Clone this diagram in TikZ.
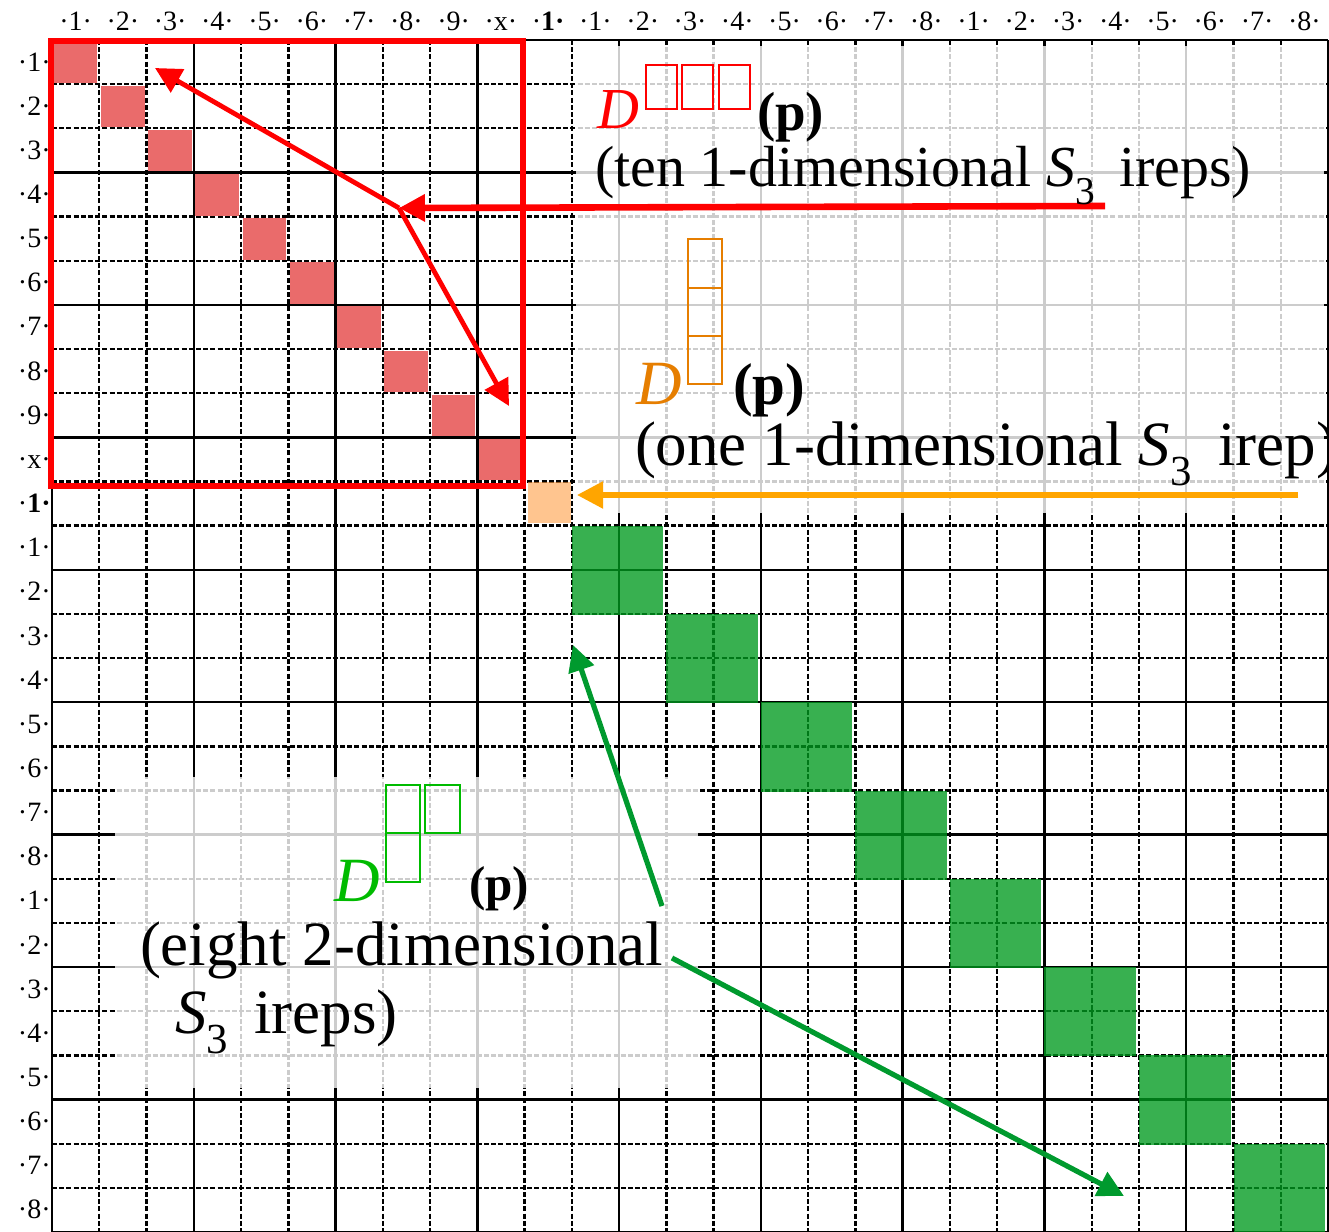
\documentclass[tikz,border=0pt]{standalone}
\usepackage{fontspec}
\setmainfont{Liberation Serif}
\usetikzlibrary{arrows.meta}
\definecolor{rosecell}{HTML}{EA6B6B}
\definecolor{peach}{HTML}{FF9F45}
\definecolor{leaf}{HTML}{009A1F}
\definecolor{amber}{HTML}{FFA500}
\definecolor{pine}{HTML}{009A2E}
\definecolor{tangerine}{HTML}{E67E00}
\definecolor{lime}{HTML}{00BB00}
\newcommand{\Sthr}{\textit{S}\raisebox{-0.32em}{\scalebox{0.68}{3}}\hspace{0.42em}}

\begin{document}
\begin{tikzpicture}[x=0.5pt, y=-0.5pt,
    gl/.style={line width=1.2pt},
    dl/.style={line width=1.2pt, dash pattern=on 2.5pt off 1.1pt},
    lab/.style={anchor=base west, inner sep=0pt, outer sep=0pt},
    idx/.style={inner sep=0pt, font=\fontsize{14}{15}\selectfont},
    yd/.style={line width=0.8pt},
    arr/.style={-{Triangle[length=13pt, width=13pt]}}]
  \useasboundingbox (0,0) rectangle (1329,1232);
  % grid, solid every third line
  \foreach \i in {0,...,27} {
    \pgfmathtruncatemacro\m{mod(\i,3)}
    \ifnum\m=0
      \draw[gl] ({52+47.26*\i},40) -- ({52+47.26*\i},1232);
      \draw[gl] (52,{40+44.148*\i}) -- (1328,{40+44.148*\i});
    \else
      \draw[dl] ({52+47.26*\i},40) -- ({52+47.26*\i},1232);
      \draw[dl] (52,{40+44.148*\i}) -- (1328,{40+44.148*\i});
    \fi
  }
  \foreach \t [count=\n from 0] in {1,2,3,4,5,6,7,8,9,x,{\bfseries 1},1,2,3,4,5,6,7,8,1,2,3,4,5,6,7,8} {
    \node[idx, anchor=base] (c\n) at ({52+47.26*(\n+0.5)},30) {·\t·};
    \node[idx, anchor=base east] (r\n) at (51,{40+44.148*(\n+0.5)+9}) {·\t·};
  }
  % blocks
  \foreach \i in {0,...,9}
    \fill[rosecell] ({52+47.26*\i+1.5},{40+44.148*\i+1.5}) rectangle ({52+47.26*(\i+1)-2},{40+44.148*(\i+1)-1});
  \fill[peach, fill opacity=0.6] (527.5,482) rectangle (570.5,523);
  \foreach \k in {0,...,7}
    \fill[leaf, fill opacity=0.78] ({52+47.26*(11+2*\k)},{40+44.148*(11+2*\k)}) rectangle ({52+47.26*(13+2*\k)-3},{40+44.148*(13+2*\k)+1});
  \fill[white, fill opacity=0.8] (576,46) rectangle (1324,513);
  \fill[white, fill opacity=0.8] (115,777) rectangle (698,1088);
  \draw[red, line width=3pt] (50.5,41) rectangle (522.5,485.5);
  % arrows
  \coordinate (redtail) at (1105,206);
  \coordinate (hub) at (399,208);
  \coordinate (redA) at (155,68);
  \coordinate (redB) at (509,406);
  \coordinate (otail) at (1298,495);
  \coordinate (otip) at (577,495);
  \coordinate (gtailA) at (662,906);
  \coordinate (gtipA) at (573,645);
  \coordinate (gtailB) at (672,958);
  \coordinate (gtipB) at (1124,1196);
  \draw[arr, red, line width=3.3pt] (redtail) -- (hub);
  \draw[arr, red, line width=2.4pt] (hub) -- (redA);
  \draw[arr, red, line width=2.4pt] (hub) -- (redB);
  \draw[arr, amber, line width=2.6pt] (otail) -- (otip);
  \draw[arr, pine, line width=2.6pt] (gtailA) -- (gtipA);
  \draw[arr, pine, line width=2.6pt] (gtailB) -- (gtipB);
  % labels
  \node[lab, text=red, font=\fontsize{29}{30}\selectfont\itshape] (tenD) at (597,128) {D};
  \foreach \a/\b in {646/677, 682/713, 719/750}
    \draw[yd, red] (\a,65) rectangle (\b,109);
  \node[lab, font=\fontsize{27.5}{30}\selectfont\bfseries] (tenP) at (757,130) {(p)};
  \node[lab, font=\fontsize{29}{30}\selectfont] (tenT) at (595,186) {(ten 1-dimensional \Sthr ireps)};
  \node[lab, text=tangerine, font=\fontsize{31.5}{32}\selectfont\itshape] (oneD) at (636,404) {D};
  \foreach \a/\b in {239/288, 288/336, 336/384}
    \draw[yd, tangerine] (688,\a) rectangle (722,\b);
  \node[lab, font=\fontsize{29.5}{30}\selectfont\bfseries] (oneP) at (733,404) {(p)};
  \node[lab, font=\fontsize{31.5}{32}\selectfont] (oneT) at (635,465) {(one 1-dimensional \Sthr irep)};
  \node[lab, text=lime, font=\fontsize{31.5}{32}\selectfont\itshape] (eightD) at (334,901) {D};
  \draw[yd, lime] (386,785) rectangle (420,833);
  \draw[yd, lime] (425,785) rectangle (460,833);
  \draw[yd, lime] (386,833) rectangle (420,882);
  \node[lab, font=\fontsize{24.5}{26}\selectfont\bfseries] (eightP) at (469,900) {(p)};
  \node[lab, font=\fontsize{31.5}{32}\selectfont] (eightT) at (140,965) {(eight 2-dimensional};
  \node[lab, font=\fontsize{31.5}{32}\selectfont] (eightU) at (175,1033) {\Sthr ireps)};
\end{tikzpicture}
\end{document}
